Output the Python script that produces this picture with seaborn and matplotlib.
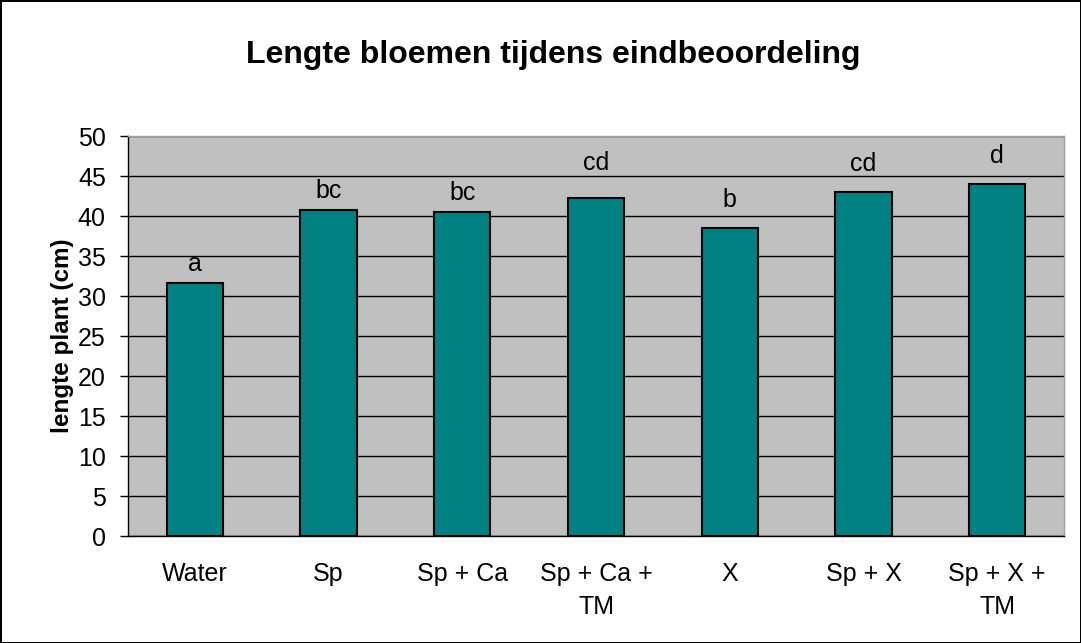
import matplotlib
matplotlib.use("Agg")
import matplotlib.pyplot as plt
import seaborn as sns
import pandas as pd

# data
behandeling = ["Water", "Sp", "Sp + Ca", "Sp + Ca +\nTM", "X", "Sp + X", "Sp + X +\nTM"]
lengte = [31.7, 40.75, 40.5, 42.25, 38.5, 43.0, 44.0]
letters = ["a", "bc", "bc", "cd", "b", "cd", "d"]
# gap (points) between bar top and letter, letters were placed by hand in the original
letter_gap = [8, 8.6, 8.6, 20, 15, 15, 15]

df = pd.DataFrame({"behandeling": behandeling, "lengte": lengte})

sns.set_style("white")
plt.rcParams["font.family"] = ["Liberation Sans", "DejaVu Sans"]
plt.rcParams["text.color"] = "black"
plt.rcParams["xtick.color"] = "black"
plt.rcParams["ytick.color"] = "black"
plt.rcParams["axes.labelcolor"] = "black"

fig = plt.figure(figsize=(10.81, 6.43), dpi=100, edgecolor="black", linewidth=2)
ax = fig.add_axes([0.1184, 0.1664, 0.8659, 0.6216])
ax.set_facecolor("#C0C0C0")

sns.barplot(data=df, x="behandeling", y="lengte", color="#008080",
            width=0.42, edgecolor="black", linewidth=1.5, saturation=1, ax=ax, zorder=3)

#letters above the bars
for i, (v, t, g) in enumerate(zip(lengte, letters, letter_gap)):
    ax.annotate(t, (i, v), xytext=(0, g), textcoords="offset points",
                ha="center", va="baseline", fontsize=18, color="black", zorder=4)

ax.set_ylim(0, 50)
ax.set_xlim(-0.5, 6.5)
ax.set_yticks(range(0, 51, 5))
ax.yaxis.grid(True, color="black", linewidth=1, zorder=0)
ax.set_axisbelow(True)

ax.set_xticks(range(7))
ax.set_xticklabels(behandeling, fontsize=18, linespacing=1.45)
ax.set_xticks([i - 0.5 for i in range(8)], minor=True)
ax.tick_params(axis="x", which="major", length=0, pad=19)
ax.tick_params(axis="x", which="minor", length=6, width=1, direction="out", color="black")
ax.tick_params(axis="y", length=6, width=1, direction="out", color="black",
               labelsize=18, left=True, pad=10)

for s in ["left", "bottom"]:
    ax.spines[s].set_color("black")
    ax.spines[s].set_linewidth(1)
for s in ["top", "right"]:
    ax.spines[s].set_color("#A0A0A0")
    ax.spines[s].set_linewidth(1)

ax.set_xlabel("")
ax.set_ylabel("lengte plant (cm)", fontsize=17.5, fontweight="bold", labelpad=3)
fig.text(0.512, 0.914, "Lengte bloemen tijdens eindbeoordeling", ha="center", va="center",
         fontsize=23, fontweight="bold")

fig.savefig("out.png", dpi=100, facecolor="white", edgecolor="black")
